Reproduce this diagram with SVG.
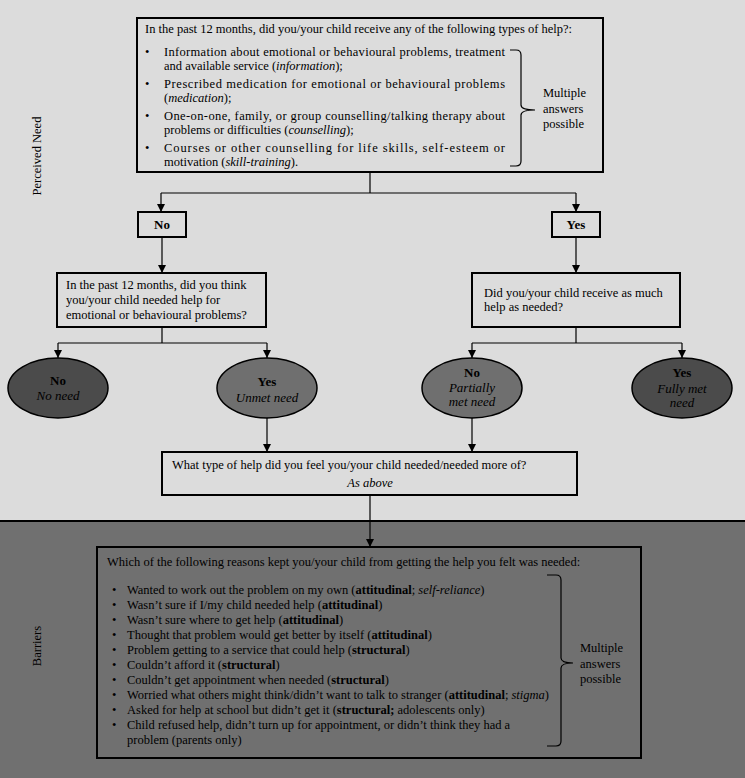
<svg xmlns="http://www.w3.org/2000/svg" width="745" height="778" viewBox="0 0 745 778">
<defs>
<marker id="ah" markerWidth="8" markerHeight="8" refX="8" refY="4" orient="auto" markerUnits="userSpaceOnUse">
<path d="M0,0 L8,4 L0,8 z" fill="#000"/>
</marker>
<style>
text{font-family:"Liberation Serif","Times New Roman",serif;font-size:12.5px;fill:#000}
.b{font-weight:bold}
.i{font-style:italic}
.box{fill:none;stroke:#000;stroke-width:2}
.c{fill:none;stroke:#000;stroke-width:1.2}
.ca{fill:none;stroke:#000;stroke-width:1.2;marker-end:url(#ah)}
.dk{fill:#4b4b4b;stroke:#000;stroke-width:1.5}
.md{fill:#6f6f6f;stroke:#000;stroke-width:1.5}
.e{font-size:13px;text-anchor:middle}
.br{fill:none;stroke:#000;stroke-width:1.2}
</style>
</defs>
<rect x="0" y="0" width="745" height="521" fill="#dcdcdc"/>
<rect x="0" y="521" width="745" height="257" fill="#707070"/>
<line x1="0" y1="521" x2="745" y2="521" stroke="#000" stroke-width="2"/>
<text transform="translate(41,156) rotate(-90)" text-anchor="middle">Perceived Need</text>
<text transform="translate(41,646) rotate(-90)" text-anchor="middle">Barriers</text>

<g id="connectors">
<path class="c" d="M370,172 V193 M161,193 H576"/>
<path class="ca" d="M161,193 V212"/>
<path class="ca" d="M576,193 V212"/>
<path class="ca" d="M162,237 V273"/>
<path class="ca" d="M576,237 V273"/>
<path class="c" d="M162,327 V343 M58,343 H267"/>
<path class="ca" d="M58,343 V358"/>
<path class="ca" d="M267,343 V358"/>
<path class="c" d="M576,327 V343 M472,343 H682"/>
<path class="ca" d="M472,343 V358"/>
<path class="ca" d="M682,343 V358"/>
<path class="ca" d="M267,418 V452"/>
<path class="ca" d="M472,418 V452"/>
<path class="ca" d="M370,495 V547"/>
</g>

<g id="q-received">
<rect class="box" x="137" y="18" width="466" height="154"/>
<text x="145" y="33">In the past 12 months, did you/your child receive any of the following types of help?:</text>
<text x="145" y="56">•</text>
<text x="164" y="56" textLength="341" lengthAdjust="spacing">Information about emotional or behavioural problems, treatment</text>
<text x="164" y="70">and available service (<tspan class="i">information</tspan>);</text>
<text x="145" y="88">•</text>
<text x="164" y="88" textLength="341" lengthAdjust="spacing">Prescribed medication for emotional or behavioural problems</text>
<text x="164" y="102">(<tspan class="i">medication</tspan>);</text>
<text x="145" y="120">•</text>
<text x="164" y="120" textLength="341" lengthAdjust="spacing">One-on-one, family, or group counselling/talking therapy about</text>
<text x="164" y="134">problems or difficulties (<tspan class="i">counselling</tspan>);</text>
<text x="145" y="152">•</text>
<text x="164" y="152" textLength="341" lengthAdjust="spacing">Courses or other counselling for life skills, self-esteem or</text>
<text x="164" y="166">motivation (<tspan class="i">skill-training</tspan>).</text>
<path class="br" d="M510,50 H516 Q521,50 521,55 V105 Q521,110 535,110 Q521,110 521,115 V161 Q521,166 516,166 H510"/>
<text x="543" y="97">Multiple</text>
<text x="543" y="113">answers</text>
<text x="543" y="128">possible</text>
</g>

<g id="no-box">
<rect class="box" x="138" y="212" width="48" height="25"/>
<text class="b" x="162" y="229" text-anchor="middle" style="font-size:13px">No</text>
</g>
<g id="yes-box">
<rect class="box" x="552" y="212" width="48" height="25"/>
<text class="b" x="576" y="229" text-anchor="middle" style="font-size:13px">Yes</text>
</g>

<g id="q-needed">
<rect class="box" x="57" y="273" width="209" height="54"/>
<text x="66" y="289">In the past 12 months, did you think</text>
<text x="66" y="304">you/your child needed help for</text>
<text x="66" y="319">emotional or behavioural problems?</text>
</g>
<g id="q-enough">
<rect class="box" x="472" y="273" width="208" height="54"/>
<text x="484" y="297">Did you/your child receive as much</text>
<text x="484" y="311">help as needed?</text>
</g>

<g id="no-need">
<ellipse class="dk" cx="58" cy="388" rx="50" ry="30"/>
<text class="e b" x="58" y="385">No</text>
<text class="e i" x="58" y="400">No need</text>
</g>
<g id="unmet-need">
<ellipse class="md" cx="267" cy="388" rx="50" ry="30"/>
<text class="e b" x="267" y="386">Yes</text>
<text class="e i" x="267" y="402">Unmet need</text>
</g>
<g id="partially-met">
<ellipse class="md" cx="472" cy="388" rx="50" ry="30"/>
<text class="e b" x="472" y="377">No</text>
<text class="e i" x="472" y="392">Partially</text>
<text class="e i" x="472" y="406">met need</text>
</g>
<g id="fully-met">
<ellipse class="dk" cx="682" cy="388" rx="50" ry="30"/>
<text class="e b" x="682" y="377">Yes</text>
<text class="e i" x="682" y="393">Fully met</text>
<text class="e i" x="682" y="407">need</text>
</g>

<g id="q-type">
<rect class="box" x="162" y="452" width="415" height="43"/>
<text x="172" y="469">What type of help did you feel you/your child needed/needed more of?</text>
<text class="i" x="370" y="487" text-anchor="middle">As above</text>
</g>

<g id="q-barriers">
<rect class="box" x="97" y="547" width="544" height="211"/>
<text x="107" y="566">Which of the following reasons kept you/your child from getting the help you felt was needed:</text>
<text x="112" y="594">•</text><text x="127" y="594">Wanted to work out the problem on my own (<tspan class="b">attitudinal</tspan>; <tspan class="i">self-reliance</tspan>)</text>
<text x="112" y="609">•</text><text x="127" y="609">Wasn’t sure if I/my child needed help (<tspan class="b">attitudinal</tspan>)</text>
<text x="112" y="624">•</text><text x="127" y="624">Wasn’t sure where to get help (<tspan class="b">attitudinal</tspan>)</text>
<text x="112" y="639">•</text><text x="127" y="639">Thought that problem would get better by itself (<tspan class="b">attitudinal</tspan>)</text>
<text x="112" y="654">•</text><text x="127" y="654">Problem getting to a service that could help (<tspan class="b">structural</tspan>)</text>
<text x="112" y="669">•</text><text x="127" y="669">Couldn’t afford it (<tspan class="b">structural</tspan>)</text>
<text x="112" y="684">•</text><text x="127" y="684">Couldn’t get appointment when needed (<tspan class="b">structural</tspan>)</text>
<text x="112" y="699">•</text><text x="127" y="699">Worried what others might think/didn’t want to talk to stranger (<tspan class="b">attitudinal</tspan>; <tspan class="i">stigma</tspan>)</text>
<text x="112" y="714">•</text><text x="127" y="714">Asked for help at school but didn’t get it (<tspan class="b">structural;</tspan> adolescents only)</text>
<text x="112" y="729">•</text><text x="127" y="729">Child refused help, didn’t turn up for appointment, or didn’t think they had a</text>
<text x="127" y="744">problem (parents only)</text>
<path class="br" d="M547,575 H556 Q561,575 561,580 V658 Q561,663 573,663 Q561,663 561,668 V741 Q561,746 556,746 H547"/>
<text x="580" y="652">Multiple</text>
<text x="580" y="668">answers</text>
<text x="580" y="683">possible</text>
</g>
</svg>
